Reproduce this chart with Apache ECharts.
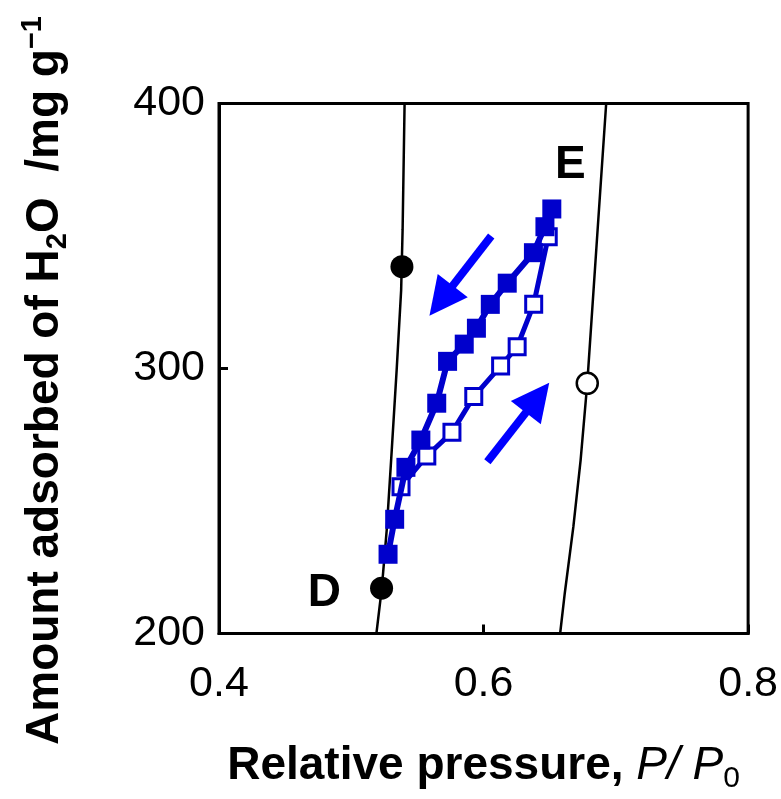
<!DOCTYPE html>
<html>
<head>
<meta charset="utf-8">
<script src="https://cdn.jsdelivr.net/npm/echarts@6/dist/echarts.min.js"></script>
<style>
html,body{margin:0;padding:0;background:#fff;}
#chart{width:781px;height:799px;}
</style>
</head>
<body>
<div id="chart"></div>
<script>
// Tick labels
const xTickLabels = ['0.4', '0.6', '0.8'];
const yTickLabels = ['200', '300', '400'];

// Reference isotherm curve D (black line)
const curveDX = [0.5190, 0.5231, 0.5268, 0.5306, 0.5343, 0.5377, 0.5388, 0.5403];
const curveDY = [200, 217.2, 239.1, 269.2, 299.4, 329.6, 352.3, 400];
// Reference isotherm curve E (black line)
const curveEX = [0.6579, 0.6614, 0.6679, 0.6734, 0.6784, 0.6857, 0.6927];
const curveEY = [200, 215.2, 240.3, 265.5, 294.4, 348.5, 400];

// Adsorption branch (open squares)
const adsX = [0.5376, 0.5571, 0.5761, 0.5926, 0.6129, 0.6254, 0.6379, 0.6489];
const adsY = [255.4, 267.0, 275.9, 289.4, 300.9, 308.2, 324.2, 349.7];

// Desorption branch (filled squares)
const desX = [0.6516, 0.6464, 0.6377, 0.6179, 0.6051, 0.5946, 0.5854, 0.5728, 0.5646, 0.5526, 0.5413, 0.5328, 0.5278];
const desY = [360.2, 353.5, 343.7, 332.2, 324.2, 315.2, 309.2, 302.7, 286.9, 273.0, 262.7, 243.1, 229.9];

// Circles on reference curves
const filledCircleX = [0.5383, 0.5229];
const filledCircleY = [338.4, 217.1];
const openCircleX = [0.6784];
const openCircleY = [294.4];

// Arrows [tailX, tailY, headCentreX, headCentreY]
const arrowDown = [0.6058, 350.0, 0.5679, 325.6];
const arrowUp = [0.6029, 264.8, 0.6408, 289.0];

// Point labels
const labelNames = ['E', 'D'];
const labelX = [0.6657, 0.4796];
const labelY = [376.8, 215.3];

const zip = (xs, ys) => xs.map((x, i) => [x, ys[i]]);
const FONT = '"Liberation Sans", Arial, sans-serif';
const BLUE = '#0000CC';
const ARROW = '#0000FF';

const chart = echarts.init(document.getElementById('chart'), null, {renderer: 'canvas'});

const option = {
  animation: false,
  backgroundColor: '#fff',
  grid: {left: 219, top: 103.5, right: 28.5, bottom: 165.5, show: true, borderColor: '#000', borderWidth: 3, backgroundColor: 'transparent'},
  xAxis: {
    type: 'value', min: 0.4, max: 0.8, interval: 0.2,
    axisLine: {show: true, onZero: false, lineStyle: {color: '#000', width: 3}},
    axisTick: {show: true, inside: true, length: 9, lineStyle: {color: '#000', width: 3}},
    splitLine: {show: false},
    axisLabel: {
      color: '#000', fontSize: 43, fontFamily: FONT, margin: 29,
      formatter: (v) => xTickLabels[Math.round((v - 0.4) / 0.2)]
    },
    name: '{n|Relative pressure, }{i|P/ P}{s|0}',
    nameLocation: 'middle', nameGap: 106,
    nameTextStyle: {
      rich: {
        n: {fontSize: 46, fontFamily: FONT, color: '#000', fontWeight: 'bold'},
        i: {fontSize: 46, fontFamily: FONT, color: '#000', fontStyle: 'italic'},
        s: {fontSize: 30, fontFamily: FONT, color: '#000', padding: [24, 0, 0, 0]}
      }
    }
  },
  yAxis: {
    type: 'value', min: 200, max: 400, interval: 100,
    axisLine: {show: true, onZero: false, lineStyle: {color: '#000', width: 3}},
    axisTick: {show: true, inside: true, length: 9, lineStyle: {color: '#000', width: 3}},
    splitLine: {show: false},
    axisLabel: {
      color: '#000', fontSize: 43, fontFamily: FONT, margin: 14,
      formatter: (v) => yTickLabels[Math.round((v - 200) / 100)]
    },
    name: '{n|Amount adsorbed of H}{s|2}{n|O  /mg g}{p|−1}',
    nameLocation: 'middle', nameRotate: 90, nameGap: 147,
    nameTextStyle: {
      padding: [0, 24, 0, 0],
      rich: {
        n: {fontSize: 46, fontFamily: FONT, color: '#000', fontWeight: 'bold'},
        s: {fontSize: 29, fontFamily: FONT, color: '#000', fontWeight: 'bold', padding: [25, 0, 0, 0]},
        p: {fontSize: 29, fontFamily: FONT, color: '#000', fontWeight: 'bold', padding: [0, 0, 25, 0]}
      }
    }
  },
  series: [
    {type: 'line', data: zip(curveDX, curveDY), showSymbol: false, symbol: 'none', lineStyle: {color: '#000', width: 2.5}, z: 2},
    {type: 'line', data: zip(curveEX, curveEY), showSymbol: false, symbol: 'none', lineStyle: {color: '#000', width: 2.5}, z: 2},
    {type: 'line', data: zip(adsX, adsY), symbol: 'rect', symbolSize: 16, lineStyle: {color: BLUE, width: 5},
      itemStyle: {color: '#fff', borderColor: BLUE, borderWidth: 3}, z: 3},
    {type: 'line', data: zip(desX, desY), symbol: 'rect', symbolSize: 19, lineStyle: {color: BLUE, width: 6},
      itemStyle: {color: BLUE, borderWidth: 0}, z: 4},
    {type: 'scatter', data: zip(filledCircleX, filledCircleY), symbol: 'circle', symbolSize: 23,
      itemStyle: {color: '#000', opacity: 1}, z: 5},
    {type: 'scatter', data: zip(openCircleX, openCircleY), symbol: 'circle', symbolSize: 21,
      itemStyle: {color: '#fff', borderColor: '#000', borderWidth: 2.5, opacity: 1}, z: 5},
    {type: 'lines', coordinateSystem: 'cartesian2d', polyline: false,
      symbol: ['none', 'triangle'], symbolSize: [40, 38],
      lineStyle: {color: ARROW, width: 8, opacity: 1, curveness: 0},
      data: [
        {coords: [[arrowDown[0], arrowDown[1]], [arrowDown[2], arrowDown[3]]]},
        {coords: [[arrowUp[0], arrowUp[1]], [arrowUp[2], arrowUp[3]]]}
      ], z: 6},
    {type: 'scatter', data: labelX.map((x, i) => ({value: [x, labelY[i]], name: labelNames[i]})),
      symbolSize: 0, silent: true, itemStyle: {opacity: 1},
      label: {show: true, position: 'inside', formatter: (p) => p.name, color: '#000', opacity: 1, fontSize: 46, fontWeight: 'bold', fontFamily: FONT}, z: 7}
  ]
};
chart.setOption(option);
</script>
</body>
</html>
